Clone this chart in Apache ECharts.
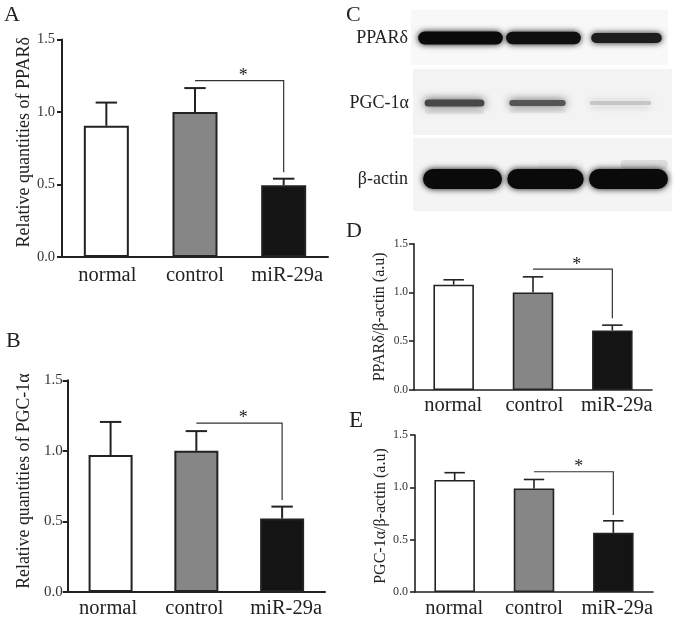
<!DOCTYPE html>
<html><head><meta charset="utf-8">
<script src="https://cdn.jsdelivr.net/npm/echarts@6/dist/echarts.min.js"></script>
<style>html,body{margin:0;padding:0;background:#fff}#c{width:677px;height:619px}</style>
</head><body><div id="c"></div>
<script>
const categories = ['normal', 'control', 'miR-29a'];
const valueTicks = [0, 0.5, 1, 1.5];

const meanA = [0.905, 1.0, 0.495];
const upperA = [1.065, 1.165, 0.54];
const bracketA = [1.216, 0.585];

const meanB = [0.97, 1.0, 0.52];
const upperB = [1.205, 1.14, 0.605];
const bracketB = [1.197, 0.652];

const meanD = [1.08, 1.0, 0.61];
const upperD = [1.13, 1.16, 0.665];
const bracketD = [1.24, 0.735];

const meanE = [1.07, 0.99, 0.565];
const upperE = [1.14, 1.075, 0.68];
const bracketE = [1.149, 0.735];

const blotLanes = ['normal', 'control', 'miR-29a'];
const densityPPAR = [1, 0.98, 0.92];
const densityPGC = [0.74, 0.68, 0.2];
const densityActin = [1, 1, 1];

const SERIF = '"Liberation Serif","Times New Roman",serif';
const INK = '#222';
const FILLS = ['#ffffff', '#868686', '#141414'];

const panels = [
  {mean: meanA, upper: upperA, bracket: bracketA, title: 'Relative quantities of PPARδ', shift: [1, 0, 3.5],
   l: 62, r: 328, t: 39.5, b: 257, lw: 2, barW: 45, capW: 21, tick: 14.5, tickM: 7, cat: 20.5, catM: 8.5, name: 18, gap: 29, pad: [0,0,0,12], starDx: 4, starDy: -4},
  {mean: meanB, upper: upperB, bracket: bracketB, title: 'Relative quantities of PGC-1α', shift: [-2.5, -2, 4],
   l: 67.7, r: 325, t: 380.3, b: 592, lw: 2, barW: 44, capW: 21, tick: 15, tickM: 5, cat: 20.5, catM: 6, name: 17.8, gap: 34, pad: [0,0,0,10], starDx: 4, starDy: -5},
  {mean: meanD, upper: upperD, bracket: bracketD, title: 'PPARδ/β-actin (a.u)', shift: [-0.5, 1.5, 4.5],
   l: 414, r: 652, t: 243.7, b: 390, lw: 1.6, barW: 40.5, capW: 20, tick: 11.5, tickM: 6, cat: 20.5, catM: 5, name: 16, gap: 26, pad: [0,0,0,0], starDx: 4, starDy: -4},
  {mean: meanE, upper: upperE, bracket: bracketE, title: 'PGC-1α/β-actin (a.u)', shift: [-0.5, 0, 4],
   l: 415, r: 653, t: 435, b: 592, lw: 1.6, barW: 40.5, capW: 20, tick: 12, tickM: 7, cat: 20.5, catM: 6, name: 16, gap: 26, pad: [0,5,0,0], starDx: 5, starDy: -4}
];

const blots = [
  {label: 'PPARδ', density: densityPPAR, l: 419, r: 668, t: 10, b: 66, m: 11, wide: [1.02, 0.9, 0.85], h: [13, 12.5, 10], blur: 3, font: 18},
  {label: 'PGC-1α', density: densityPGC, l: 413, r: 662, t: 70, b: 136, m: 4, wide: [0.72, 0.68, 0.74], h: [7, 6, 4], blur: 4, font: 18, ghost: [0.06, 0.05, 0.015]},
  {label: 'β-actin', density: densityActin, l: 421, r: 670, t: 146, b: 212, m: 13, wide: [0.95, 0.92, 0.95], h: [20, 20, 20], blur: 3, font: 18, smudge: [0, 0.02, 0.09]}
];

const grid = [], xAxis = [], yAxis = [], series = [];

panels.forEach((p, i) => {
  grid.push({left: p.l, top: p.t, width: p.r - p.l, height: p.b - p.t, containLabel: false, outerBoundsMode: 'none'});
  const axisLine = {show: true, lineStyle: {color: INK, width: p.lw}};
  xAxis.push({gridIndex: i, type: 'category',
    data: categories.map((c, k) => ({value: c, textStyle: {padding: p.shift[k] >= 0 ? [0, 0, 0, p.shift[k] * 2] : [0, -p.shift[k] * 2, 0, 0]}})),
    axisLine, axisTick: {show: false},
    axisLabel: {fontFamily: SERIF, fontSize: p.cat, color: INK, margin: p.catM, interval: 0}});
  yAxis.push({gridIndex: i, type: 'value', min: valueTicks[0], max: valueTicks[3], interval: 0.5, axisLine,
    axisTick: {show: true, length: 5, lineStyle: {color: INK, width: p.lw}}, splitLine: {show: false},
    axisLabel: {fontFamily: SERIF, fontSize: p.tick, color: '#333', margin: p.tickM, formatter: v => v.toFixed(1)},
    name: p.title, nameLocation: 'middle', nameGap: p.gap,
    nameTextStyle: {fontFamily: SERIF, fontSize: p.name, color: INK, padding: p.pad}});
  series.push({type: 'custom', xAxisIndex: i, yAxisIndex: i, z: 2, clip: false, silent: true,
    data: p.upper.map((u, k) => [k, u]),
    renderItem: (params, api) => {
      const k = params.dataIndex;
      const top = api.coord([k, p.upper[k]]);
      const base = api.coord([k, p.mean[k]]);
      const style = {stroke: INK, lineWidth: p.lw, fill: null};
      return {type: 'group', children: [
        {type: 'line', shape: {x1: top[0], y1: top[1], x2: base[0], y2: base[1]}, style},
        {type: 'line', shape: {x1: top[0] - p.capW / 2 * 1.02, y1: top[1], x2: top[0] + p.capW / 2 * 1.02, y2: top[1]}, style}
      ]};
    }});
  series.push({type: 'bar', xAxisIndex: i, yAxisIndex: i, z: 3, barWidth: p.barW, silent: true,
    data: p.mean.map((v, k) => ({value: v, itemStyle: {color: FILLS[k], borderColor: INK, borderWidth: p.lw}}))});
  series.push({type: 'custom', xAxisIndex: i, yAxisIndex: i, z: 4, clip: false, silent: true,
    data: [[1, p.bracket[0]]],
    renderItem: (params, api) => {
      const a = api.coord([1, p.bracket[0]]);
      const b = api.coord([2, p.bracket[0]]);
      const c = api.coord([2, p.bracket[1]]);
      return {type: 'group', children: [
        {type: 'polyline', shape: {points: [a, b, c]}, style: {stroke: '#333', lineWidth: 1.2, fill: null}},
        {type: 'text', x: (a[0] + b[0]) / 2 + p.starDx, y: a[1] + p.starDy,
         style: {text: '*', font: '18px ' + SERIF, fill: INK, textAlign: 'center', textVerticalAlign: 'middle'}}
      ]};
    }});
});

blots.forEach((row, j) => {
  const i = panels.length + j;
  grid.push({left: row.l, top: row.t, width: row.r - row.l, height: row.b - row.t, outerBoundsMode: 'none'});
  xAxis.push({gridIndex: i, type: 'category', data: blotLanes, show: false});
  yAxis.push({gridIndex: i, type: 'category', data: [row.label],
    axisLine: {show: false}, axisTick: {show: false}, splitLine: {show: false},
    axisLabel: {fontFamily: SERIF, fontSize: row.font, color: INK, margin: row.m}});
  series.push({type: 'custom', xAxisIndex: i, yAxisIndex: i, clip: false, silent: true, z: 2,
    data: row.density.map((d, k) => [k, 0, d]),
    renderItem: (params, api) => {
      const k = params.dataIndex, d = row.density[k];
      const c = api.coord([k, 0]);
      const step = api.size([1, 0])[0];
      const w = step * row.wide[k];
      const h = row.h[k];
      const g = Math.round(245 - 235 * d);
      const col = `rgb(${g},${g},${g})`;
      const children = [];
      if (row.ghost) {
        const a = row.ghost[k];
        children.push({type: 'rect', shape: {x: c[0] - w / 2, y: c[1] + h, width: w, height: 4, r: 2},
          style: {fill: `rgba(0,0,0,${a})`, shadowColor: `rgba(0,0,0,${a})`, shadowBlur: 6}});
      }
      if (row.smudge && row.smudge[k] > 0) {
        const a = row.smudge[k];
        children.push({type: 'rect', shape: {x: c[0] - w * 0.1, y: c[1] - h / 2 - 9, width: w * 0.6, height: 9, r: 4},
          style: {fill: `rgba(0,0,0,${a})`, shadowColor: `rgba(0,0,0,${a * 2})`, shadowBlur: 14}});
      }
      children.push({type: 'rect', shape: {x: c[0] - w / 2, y: c[1] - h / 2, width: w, height: h, r: h / 2},
        style: {fill: col, shadowColor: col, shadowBlur: row.blur * 2}});
      return {type: 'group', children};
    }});
});

const letters = [['A', 4, 26, 22], ['B', 6, 352, 22], ['C', 346, 26, 22], ['D', 346, 242, 22], ['E', 349, 432, 23]];
const graphic = [
  ...[[411, 10, 257, 55, '#f8f8f8'], [413, 69, 259, 66, '#f3f3f3'], [413, 138, 259, 73, '#f4f4f4']].map(r => ({
    type: 'rect', z: 0, silent: true, shape: {x: r[0], y: r[1], width: r[2], height: r[3]}, style: {fill: r[4]}})),
  ...letters.map(l => ({type: 'text', z: 5, silent: true, x: l[1], y: l[2],
    style: {text: l[0], font: l[3] + 'px ' + SERIF, fill: INK, textVerticalAlign: 'bottom'}}))
];

const chart = echarts.init(document.getElementById('c'), null, {renderer: 'canvas'});
chart.setOption({animation: false, backgroundColor: '#fff', tooltip: {show: false}, grid, xAxis, yAxis, series, graphic});
</script></body></html>
